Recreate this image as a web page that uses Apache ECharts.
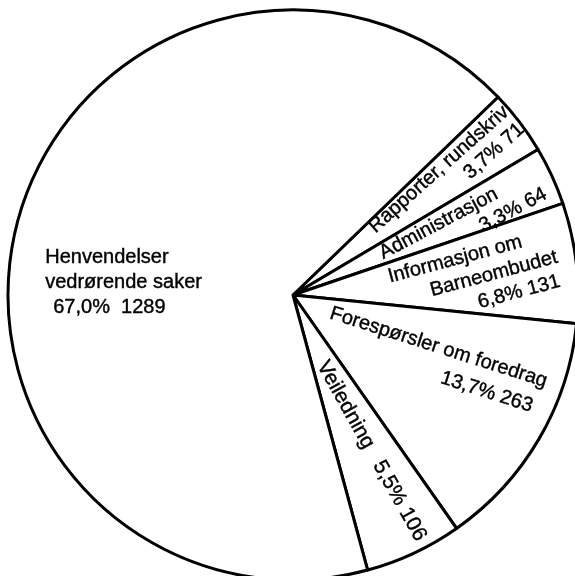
<!DOCTYPE html>
<html>
<head>
<meta charset="utf-8">
<script src="https://cdn.jsdelivr.net/npm/echarts@6/dist/echarts.min.js"></script>
<style>
  html, body { margin: 0; padding: 0; background: #fff; }
  #main { width: 575px; height: 576px; }
</style>
</head>
<body>
<div id="main"></div>
<script>
// data (clockwise from the top-right edge)
var names = ['Rapporter, rundskriv', 'Administrasjon', 'Informasjon om\nBarneombudet',
  'Forespørsler om foredrag', 'Veiledning', 'Henvendelser\nvedrørende saker'];
var values = [71, 64, 131, 263, 106, 1289];
var total = values.reduce(function (a, b) { return a + b; }, 0);

function pct(v) {
  return (v / total * 100).toFixed(1).replace('.', ',') + '%';
}

// how each label sits inside its slice (rotation, shift, indent of the lines)
// indent: number = left padding of that line, 'r' = right aligned
var looks = [
  { rotate: 41.7, pad: [2, 0, 0, 20], indent: [0, 'r'], lh: 23, sep: ' ' },
  { rotate: 28, pad: [13, 0, 0, 2], indent: [0, 101], lh: 23, sep: ' ' },
  { rotate: 15, pad: [9, 0, 0, 0], indent: [0, 37, 80], lh: 24, sep: ' ' },
  { rotate: -17.7, pad: [0, 48, 41, 0], indent: [0, 125], lh: 28, sep: ' ' },
  { rotate: -60.7, pad: [0, 16, 11, 0], indent: [0], lh: 24, sep: ' ', inline: true, size: 21 },
  { rotate: 0, pad: [72, 0, 0, 14], indent: [0, 0, 8], lh: 25, sep: '  ' }
];

var font = {
  fontFamily: 'Liberation Sans', fontSize: 20, color: '#000',
  textBorderColor: '#000', textBorderWidth: 0.4
};

function labelFor(i) {
  var lk = looks[i];
  var n = names[i];
  var num = pct(values[i]) + lk.sep + values[i];
  var lines = lk.inline ? [n + '   ' + num] : n.split('\n').concat([num]);
  var rich = {};
  var txt = lines.map(function (s, k) {
    var ind = lk.indent[k] || 0;
    var st = Object.assign({}, font, { lineHeight: lk.lh });
    if (lk.size) st.fontSize = lk.size;
    if (ind === 'r') {
      st.align = 'right';
    } else {
      st.align = 'left';
      st.padding = [0, 0, 0, ind];
    }
    rich['t' + k] = st;
    return '{t' + k + '|' + s + '}';
  }).join('\n');
  return {
    show: true,
    position: 'inside',
    rotate: lk.rotate,
    padding: lk.pad,
    formatter: txt,
    rich: rich
  };
}

var series = [{
  type: 'pie',
  center: [293, 295],
  radius: 285,
  startAngle: 44,
  clockwise: true,
  silent: true,
  label: { show: false },
  labelLine: { show: false },
  emphasis: { disabled: true },
  itemStyle: { color: '#fff', borderColor: '#000', borderWidth: 3 },
  data: names.map(function (n, i) { return { name: n, value: values[i] }; })
}];

// one transparent copy per slice, each carrying only that slice's label
names.forEach(function (n, j) {
  series.push({
    type: 'pie',
    center: [293, 295],
    radius: 360,
    startAngle: 44,
    clockwise: true,
    silent: true,
    avoidLabelOverlap: false,
    labelLayout: { hideOverlap: false },
    labelLine: { show: false },
    emphasis: { disabled: true },
    itemStyle: { color: 'rgba(0,0,0,0)', borderWidth: 0 },
    label: { show: false },
    data: names.map(function (m, i) {
      var d = { name: m, value: values[i] };
      if (i === j) d.label = labelFor(i);
      return d;
    })
  });
});

var chart = echarts.init(document.getElementById('main'));
chart.setOption({
  backgroundColor: '#fff',
  animation: false,
  series: series
});
</script>
</body>
</html>
